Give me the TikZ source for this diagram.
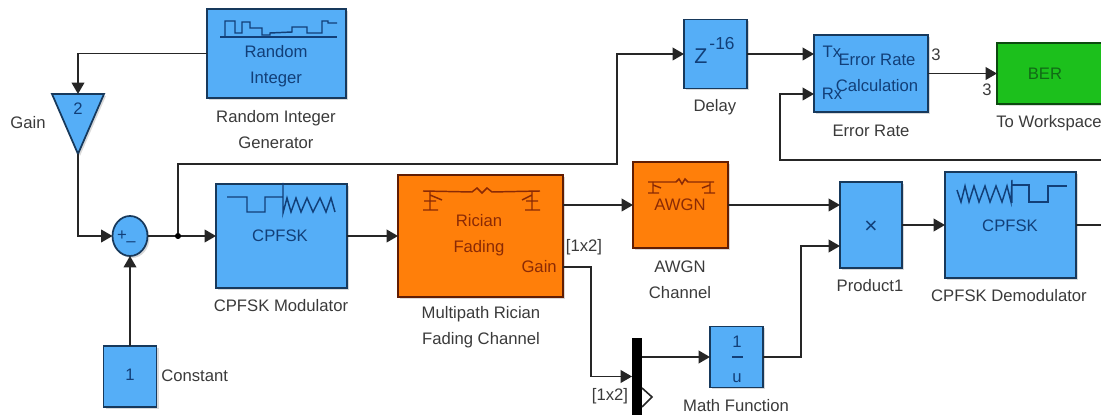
\documentclass[tikz,border=0pt]{standalone}
\usepackage{fontspec}
\setmainfont{Liberation Sans}
\usetikzlibrary{arrows.meta,shapes.geometric,shadows}
\definecolor{blockblue}{HTML}{55AEF7}
\definecolor{blockorange}{HTML}{FF7F0A}
\definecolor{blockgreen}{HTML}{1CC01C}
\definecolor{edgeblue}{HTML}{17395C}
\definecolor{inkblue}{HTML}{123F78}
\definecolor{inkred}{HTML}{8A2A05}
\definecolor{inkgreen}{HTML}{116A16}
\definecolor{capgray}{HTML}{3A3A3A}
\tikzset{
  sized/.style 2 args={minimum width=#1*0.75pt,minimum height=#2*0.75pt},
  block/.style={draw=edgeblue,line width=1.3pt,fill=blockblue,inner sep=0pt,outer sep=0pt,
    drop shadow={opacity=0.3,shadow xshift=1.5pt,shadow yshift=-1.5pt}},
  orangeblock/.style={block,draw=inkred!70!black,fill=blockorange},
  greenblock/.style={block,draw=inkgreen!70!black,fill=blockgreen},
  wire/.style={line width=1.2pt,black!85},
  arrowwire/.style={wire,-{Triangle[length=8.5pt,width=9.5pt]}},
  icon/.style={line width=1.1pt,inkblue},
  redicon/.style={line width=1.1pt,inkred},
  txt/.style={inner sep=0pt,font=\fontsize{12.5}{19.5}\selectfont,align=center},
  caption/.style={txt,text=capgray},
  bluetxt/.style={txt,text=inkblue},
  redtxt/.style={txt,text=inkred},
  greentxt/.style={txt,text=inkgreen}
}
\begin{document}
\begin{tikzpicture}[x=0.75pt,y=-0.75pt]
\useasboundingbox (0,0) rectangle (1101,417);
\node[block,sized={139}{89}] (randint) at (276.5,53.5) {};
\node[block,isosceles triangle,isosceles triangle apex angle=47,isosceles triangle stretches,shape border rotate=270,sized={52}{60},anchor=apex] (gain) at (78,154) {};
\node[block,ellipse,sized={35}{40}] (sum) at (130,236) {};
\node[block,sized={53}{61}] (const) at (130,376.5) {};
\node[block,sized={131}{104}] (mod) at (281.5,236) {};
\node[orangeblock,sized={165}{122}] (rician) at (480.5,236) {};
\node[orangeblock,sized={95}{86}] (awgn) at (680.5,205) {};
\node[block,sized={63}{69}] (delay) at (715.5,54) {};
\node[block,sized={114}{77}] (errrate) at (871,73.5) {};
\node[greenblock,sized={130}{61}] (ber) at (1062,73.5) {};
\node[block,sized={62}{86}] (prod) at (871,225) {};
\node[block,sized={131}{106}] (demod) at (1010.5,225) {};
\node[block,sized={53}{61}] (mathfn) at (736.5,357) {};
\node[fill=black,inner sep=0pt,outer sep=0pt,sized={10}{77}] (mux) at (637,376.5) {};
\node[circle,fill=black,inner sep=0pt,minimum size=4pt] (junc) at (178,236) {};
\coordinate (topbend) at (617,164);
\coordinate (ricianout) at (563,205);
\coordinate (gainout) at (563,267);
\coordinate (gainbend) at (591,376.5);
\coordinate (muxout) at (642,357);
\coordinate (errtx) at (814,54);
\coordinate (errrx) at (814,94);
\coordinate (rxfree) at (1101,160);
\coordinate (rxbend) at (780,160);
\coordinate (prodin1) at (840,205);
\coordinate (prodin2) at (840,246);
\coordinate (mathbend) at (801,246);
\coordinate (demodfree) at (1101,225);
\draw[arrowwire] (randint.west) -| (gain.north);
\draw[arrowwire] (gain.apex) |- (sum.west);
\draw[arrowwire] (const.north) -- (sum.south);
\draw[arrowwire] (sum.east) -- (mod.west);
\draw[arrowwire] (junc) |- (topbend) |- (delay.west);
\fill (junc) circle (3);
\draw[arrowwire] (mod.east) -- (rician.west);
\draw[arrowwire] (ricianout) -- (awgn.west);
\draw[arrowwire] (gainout) -| (gainbend) -- (mux.west);
\draw[arrowwire] (muxout) -- (mathfn.west);
\draw[arrowwire] (delay.east) -- (errtx);
\draw[arrowwire] (rxfree) -- (rxbend) |- (errrx);
\draw[arrowwire] (errrate.east) -- (ber.west);
\draw[arrowwire] (awgn.east) -- (prodin1);
\draw[arrowwire] (mathfn.east) -| (mathbend) -- (prodin2);
\draw[arrowwire] (prod.east) -- (demod.west);
\draw[wire] (demod.east) -- (demodfree);
\draw[line width=1.2pt,black!85] (642,388) -- (652,397) -- (642,407);
\draw[icon] (220,37) -- (337,37);
\draw[icon] (225,37) -- (225,21) -- (235,21) -- (235,33) -- (242,33) -- (242,22) -- (250,22) -- (250,28) -- (262,28) -- (262,35) -- (270,35) -- (270,33) -- (292,32) -- (292,27) -- (307,27) -- (307,33) -- (322,33) -- (322,21) -- (328,21) -- (328,23) -- (337,23);
\draw[icon] (227,197) -- (247,197) -- (247,212) -- (265,212) -- (265,197) -- (283,197) -- (283,183) -- (283,213) -- (287,198) -- (291,212) -- (296,198) -- (301,212) -- (307,198) -- (313,212) -- (320,198) -- (326,212) -- (331,198) -- (335,212);
\draw[icon] (957,190) -- (961,202) -- (965,186) -- (969,202) -- (974,186) -- (979,202) -- (985,186) -- (990,202) -- (996,186) -- (1002,202) -- (1007,186) -- (1011,202) -- (1012,180) -- (1012,203);
\draw[icon] (1012,185) -- (1029,185) -- (1029,202) -- (1048,202) -- (1048,186) -- (1067,186);
\draw[redicon] (423,191) -- (472,192) -- (477,188) -- (482,193) -- (487,188) -- (492,192) -- (540,191);
\draw[redicon] (430,191) -- (430,210) (423,210) -- (438,210) (430,195) -- (442,200) (424,201) -- (436,201);
\draw[redicon] (532,191) -- (532,210) (525,210) -- (540,210) (532,195) -- (522,200) (526,201) -- (538,201);
\draw[redicon] (648,182) -- (676,182) -- (679,179) -- (682,184) -- (685,179) -- (688,182) -- (714,182);
\draw[redicon] (653,182) -- (653,193) (648,193) -- (659,193) (653,185) -- (661,188);
\draw[redicon] (710,182) -- (710,193) (704,193) -- (715,193) (710,185) -- (702,188);
\draw[inkblue,line width=1.1pt] (732,357) -- (743,357);
\node[caption] (randintcap) at (276,130) {Random Integer\\Generator};
\node[caption] (gaincap) at (28,123) {Gain};
\node[caption] (modcap) at (281,306) {CPFSK Modulator};
\node[caption,anchor=west] (constcap) at (161,376) {Constant};
\node[caption] (riciancap) at (481,327) {Multipath Rician\\Fading Channel};
\node[caption] (awgncap) at (680,280) {AWGN\\Channel};
\node[caption] (dim1) at (584,247) {[1x2]};
\node[caption] (dim2) at (610,396) {[1x2]};
\node[caption] (mathcap) at (736,406) {Math Function};
\node[caption] (prodcap) at (870,286) {Product1};
\node[caption] (demodcap) at (1009,296) {CPFSK Demodulator};
\node[caption] (delaycap) at (715,107) {Delay};
\node[caption] (errcap) at (871,131) {Error Rate};
\node[caption] (bercap) at (1049,123) {To Workspace};
\node[caption] (errdim) at (936,55) {3};
\node[caption] (berdim) at (987,90) {3};
\node[bluetxt] (randtxt) at (276,66) {Random\\Integer};
\node[bluetxt] (gaintxt) at (78,109) {2};
\node[bluetxt] (plustxt) at (122,236) {+};
\node[bluetxt] (minustxt) at (131,244) {--};
\node[bluetxt] (consttxt) at (130,375) {1};
\node[bluetxt] (modtxt) at (280,236) {CPFSK};
\node[redtxt] (riciantxt) at (479,235) {Rician\\Fading};
\node[redtxt,anchor=east] (gainport) at (557,267) {Gain};
\node[redtxt] (awgntxt) at (680,205) {AWGN};
\node[bluetxt,font=\fontsize{16}{19}\selectfont] (ztxt) at (701,56) {Z};
\node[bluetxt,font=\fontsize{13}{19}\selectfont] (exptxt) at (722,44) {-16};
\node[bluetxt] (txtxt) at (832,52) {Tx};
\node[bluetxt] (rxtxt) at (832,94) {Rx};
\node[bluetxt] (errtxt) at (877,73) {Error Rate\\Calculation};
\node[greentxt] (bertxt) at (1045,74) {BER};
\node[bluetxt,font=\fontsize{17}{19}\selectfont] (prodtxt) at (871,227) {×};
\node[bluetxt] (demodtxt) at (1010,226) {CPFSK};
\node[bluetxt] (onetxt) at (737,342) {1};
\node[bluetxt] (utxt) at (737,378) {u};
\end{tikzpicture}
\end{document}
